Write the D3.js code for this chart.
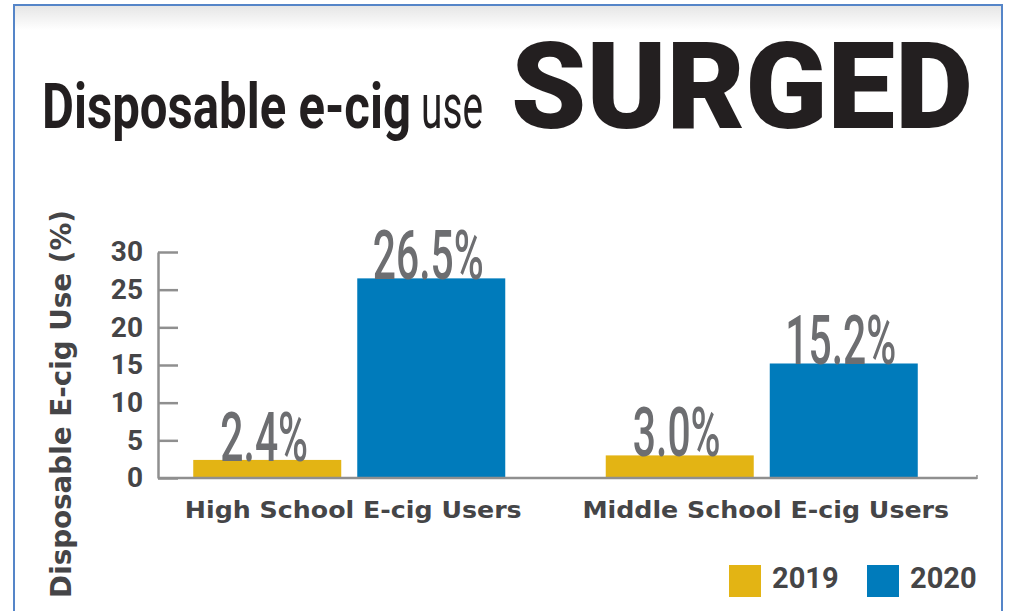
<!DOCTYPE html>
<html>
<head>
<meta charset="utf-8">
<script src="https://cdn.jsdelivr.net/npm/d3@7"></script>
<style>
  html, body { margin: 0; padding: 0; background: #ffffff; }
  svg { display: block; }
</style>
</head>
<body>
<svg id="chart" width="1009" height="611"></svg>
<script>
// Disposable e-cig use among youth e-cig users, 2019 vs 2020
const categories = ["High School E-cig Users", "Middle School E-cig Users"];
const years = ["2019", "2020"];
const values2019 = [2.4, 3.0];
const values2020 = [26.5, 15.2];
const yTicks = [0, 5, 10, 15, 20, 25, 30];
const yAxisTitle = "Disposable E-cig Use (%)";

const yearColors = { "2019": "#e3b414", "2020": "#007bbb" };
const labelGray = "#6d6e71";
const textDark = "#454547";
const axisGray = "#8f8f8f";
const sans = "Roboto, 'Liberation Sans', sans-serif";
const wide = "'DejaVu Sans', Verdana, sans-serif";

const rows = categories.map((c, i) => ({
  category: c,
  bars: [
    { year: "2019", value: values2019[i] },
    { year: "2020", value: values2020[i] }
  ]
}));

// squeeze or stretch a text horizontally so that it spans the given width,
// anchored at (x, y)
function fitWidth(node, x, y, width, rotate) {
  const w = node.getComputedTextLength();
  const k = width / w;
  d3.select(node)
    .attr("x", 0).attr("y", 0)
    .attr("transform", `translate(${x},${y})${rotate ? ` rotate(${rotate})` : ""} scale(${k},1)`);
}

const svg = d3.select("#chart");

// frame with a faint shadow along the top edge
const defs = svg.append("defs");
const grad = defs.append("linearGradient")
  .attr("id", "topShade").attr("x1", 0).attr("y1", 0).attr("x2", 0).attr("y2", 1);
grad.append("stop").attr("offset", "0%").attr("stop-color", "#e6e6e6");
grad.append("stop").attr("offset", "100%").attr("stop-color", "#ffffff");
svg.append("rect").attr("x", 15).attr("y", 6).attr("width", 986).attr("height", 24)
  .attr("fill", "url(#topShade)");
svg.append("path")
  .attr("d", "M14,613 V5 H1002 V613")
  .attr("fill", "none").attr("stroke", "#5585c8").attr("stroke-width", 2);

// headline
const title = svg.append("g").attr("fill", "#231f20").attr("font-family", sans);
const titleParts = [
  { text: "Disposable e-cig", size: 63, weight: 700, x: 42, width: 369 },
  { text: "use", size: 63, weight: 400, x: 421, width: 62 },
  { text: "SURGED", size: 121, weight: 900, x: 511, width: 462 }
];
title.selectAll("text").data(titleParts).join("text")
  .attr("font-size", d => d.size)
  .attr("font-weight", d => d.weight)
  .text(d => d.text)
  .each(function (d) { fitWidth(this, d.x, 128, d.width); });

// scales
const y = d3.scaleLinear().domain([0, 30]).range([478, 252]);
const x0 = d3.scaleBand().domain(categories).range([143, 968])
  .paddingInner(0.2436).paddingOuter(0.1218);
const x1 = d3.scaleBand().domain(years).range([0, x0.bandwidth()])
  .paddingInner(0.0976).paddingOuter(0);

// y axis with inward ticks
const yAxis = svg.append("g")
  .attr("transform", "translate(158,0)")
  .call(d3.axisLeft(y).tickValues(yTicks).tickSize(-20).tickPadding(15).tickSizeOuter(0));
yAxis.select(".domain").attr("stroke", axisGray).attr("stroke-width", 2.5);
yAxis.selectAll(".tick line").attr("stroke", axisGray).attr("stroke-width", 2.5);
yAxis.selectAll(".tick text")
  .attr("fill", textDark).attr("font-size", 28).attr("font-weight", 700)
  .attr("font-family", sans);

// bars
const groups = svg.append("g").selectAll("g.group")
  .data(rows).join("g")
  .attr("class", "group")
  .attr("transform", d => `translate(${x0(d.category)},0)`);

groups.selectAll("rect")
  .data(d => d.bars).join("rect")
  .attr("x", d => x1(d.year))
  .attr("y", d => y(d.value))
  .attr("width", x1.bandwidth())
  .attr("height", d => y(0) - y(d.value))
  .attr("fill", d => yearColors[d.year]);

// value labels sitting on the bars, condensed
const fmt = d => d3.format(".1f")(d) + "%";
groups.selectAll("text.value")
  .data(d => d.bars).join("text")
  .attr("class", "value")
  .attr("text-anchor", "middle")
  .attr("fill", labelGray)
  .attr("font-family", sans)
  .attr("font-size", 68).attr("font-weight", 500)
  .text(d => fmt(d.value))
  .each(function (d) {
    const w = this.getComputedTextLength();
    fitWidth(this, x1(d.year) + x1.bandwidth() / 2 - 3, y(d.value) + 1, w * 0.6);
  });

// baseline (x axis)
const xAxis = svg.append("g").attr("transform", `translate(0,${y(0)})`);
xAxis.append("line").attr("x1", 158).attr("x2", 977).attr("y1", 0).attr("y2", 0)
  .attr("stroke", axisGray).attr("stroke-width", 2.5);
xAxis.append("line").attr("x1", 977).attr("x2", 977).attr("y1", 1).attr("y2", -3)
  .attr("stroke", axisGray).attr("stroke-width", 1.5);

// category labels
svg.append("g").selectAll("text")
  .data(categories).join("text")
  .attr("text-anchor", "middle")
  .attr("fill", textDark)
  .attr("font-family", wide)
  .attr("font-size", 23.5).attr("font-weight", 700)
  .text(d => d)
  .each(function (d, i) {
    fitWidth(this, x0(d) + x0.bandwidth() / 2 + 4, 518, i === 0 ? 337 : 367);
  });

// y axis title
svg.append("text")
  .attr("text-anchor", "middle")
  .attr("fill", textDark)
  .attr("font-family", wide)
  .attr("font-size", 29).attr("font-weight", 700)
  .text(yAxisTitle)
  .each(function () { fitWidth(this, 71, 404, 388, -90); });

// legend
const legendX = d3.scalePoint().domain(years).range([729, 867]);
const legend = svg.append("g").selectAll("g")
  .data(years).join("g")
  .attr("transform", d => `translate(${legendX(d)},565)`);
legend.append("rect").attr("width", 32).attr("height", 32)
  .attr("fill", d => yearColors[d]);
legend.append("text").attr("x", 43).attr("y", 23)
  .attr("fill", textDark)
  .attr("font-family", sans)
  .attr("font-size", 29).attr("font-weight", 700)
  .text(d => d);
</script>
</body>
</html>
